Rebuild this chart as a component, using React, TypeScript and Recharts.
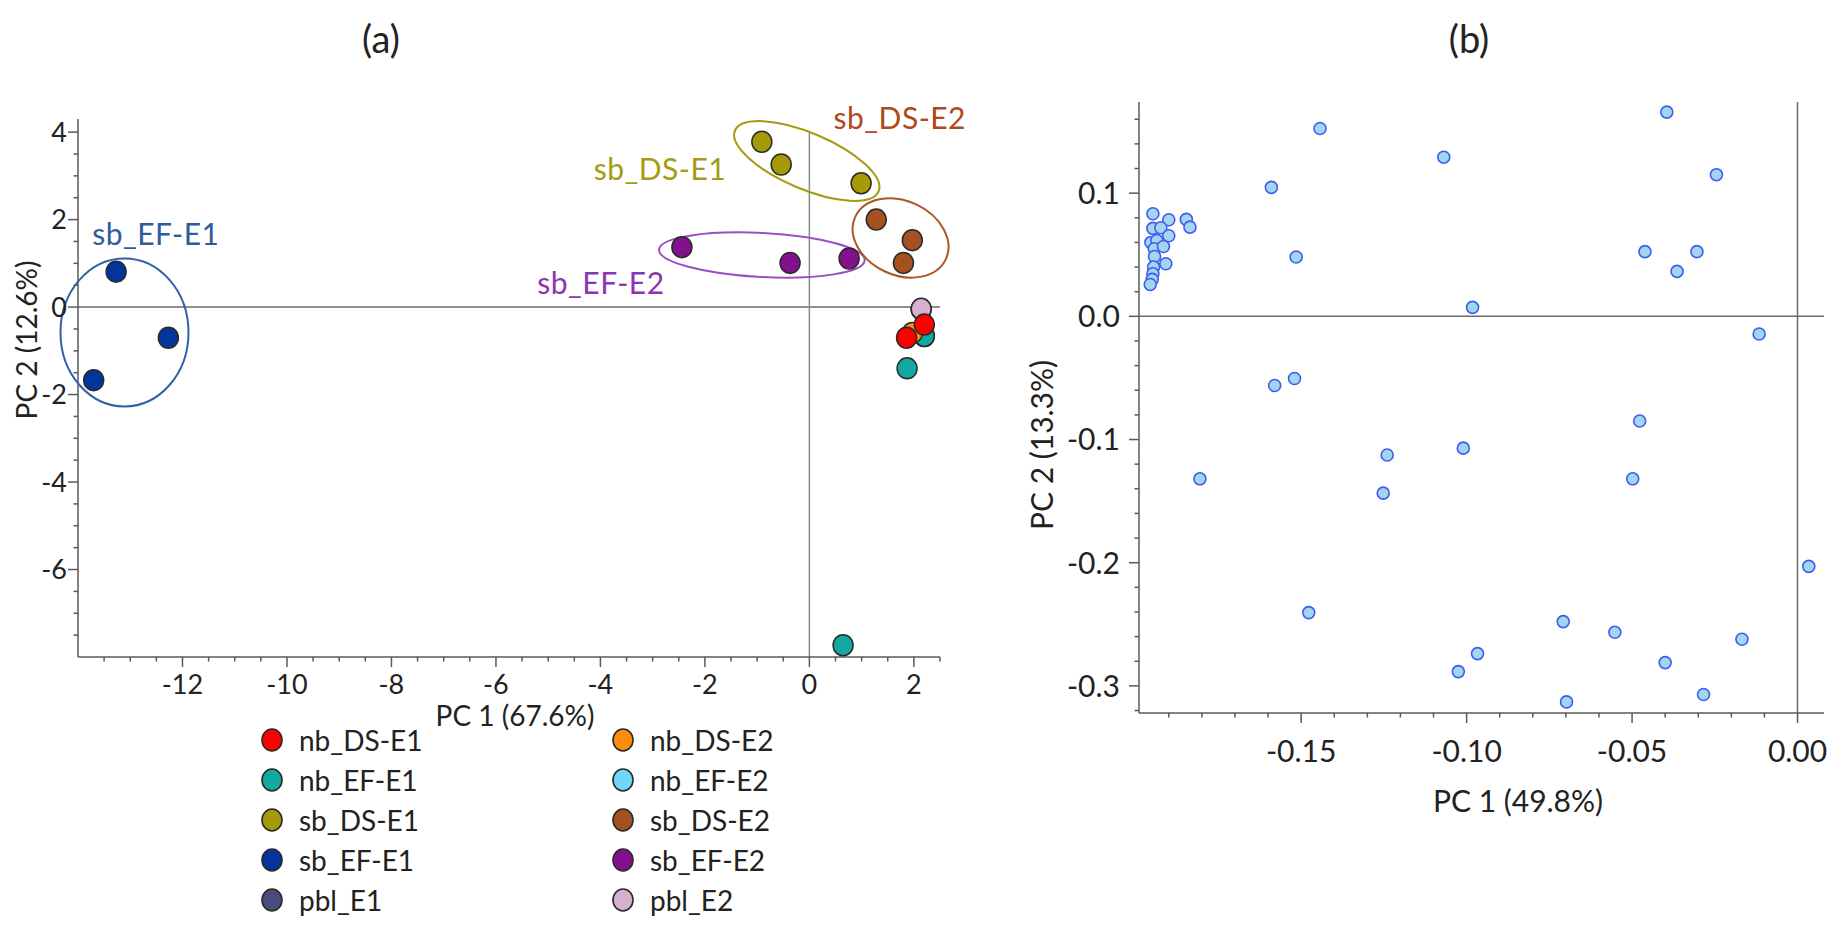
import React from 'react';
import { ScatterChart, Scatter, XAxis, YAxis, ReferenceLine, ReferenceDot } from 'recharts';

const FONT = "Lato, 'Open Sans', sans-serif";
const AXIS = '#5a5a5a';
const INK = '#222';

// ---- (a) PCA scores, one array per group: [PC1, PC2]
const nbDSE1 = [[2.2, -0.4], [1.86, -0.7]];
const nbEFE1 = [[2.2, -0.66], [1.87, -1.4], [0.645, -7.73]];
const sbDSE1 = [[-0.91, 3.78], [-0.54, 3.26], [0.99, 2.83]];
const sbEFE1 = [[-13.27, 0.81], [-12.27, -0.7], [-13.7, -1.67]];
const pblE1 = [[2.14, -0.05]];
const nbDSE2 = [[1.97, -0.59]];
const nbEFE2 = [[2.2, -0.66]];
const sbDSE2 = [[1.28, 2.0], [1.97, 1.53], [1.8, 1.01]];
const sbEFE2 = [[-2.44, 1.37], [-0.37, 1.01], [0.76, 1.11]];
const pblE2 = [[2.14, -0.04]];

const groupNames = ['nb_DS-E1', 'nb_EF-E1', 'sb_DS-E1', 'sb_EF-E1', 'pbl_E1', 'nb_DS-E2', 'nb_EF-E2', 'sb_DS-E2', 'sb_EF-E2', 'pbl_E2'];
const groupPoints = [nbDSE1, nbEFE1, sbDSE1, sbEFE1, pblE1, nbDSE2, nbEFE2, sbDSE2, sbEFE2, pblE2];
const groupColors = ['#ff0000', '#12a9a1', '#a69a05', '#03349c', '#474c7f', '#ff8c0a', '#6fd8f8', '#a4501f', '#83108d', '#d9afd0'];
// hidden ones first, red on top
const drawOrder = [4, 6, 9, 1, 5, 0, 2, 3, 7, 8];

// group ellipses and their labels, centres in PC units
const ellipseNames = ['sb_EF-E1', 'sb_DS-E1', 'sb_EF-E2', 'sb_DS-E2'];
const ellipseCentres = [[-13.11, -0.58], [-0.05, 3.34], [-0.91, 1.19], [1.745, 1.58]];
const labelAnchors = [[-12.51, 1.65], [-2.86, 3.15], [-3.99, 0.53], [1.73, 4.31]];
const ellipseLook = [
  { rx: 64, ry: 74, rot: 0, stroke: '#3260ab', text: '#2e5b9e' },
  { rx: 78, ry: 28, rot: 23, stroke: '#a39b10', text: '#a39b12' },
  { rx: 103, ry: 22, rot: 3, stroke: '#9a4ec6', text: '#8b35b5' },
  { rx: 50, ry: 37, rot: 25, stroke: '#a8582a', text: '#b2461a' },
];

const scoreXMajor = [-12, -10, -8, -6, -4, -2, 0, 2];
const scoreYMajor = [-6, -4, -2, 0, 2, 4];

// ---- (b) loadings [PC1, PC2]
const loadings = [
  [-0.1443, 0.1525], [-0.0395, 0.1658], [-0.1069, 0.1292], [-0.0245, 0.115],
  [-0.159, 0.1047], [-0.1515, 0.0482], [-0.0461, 0.0525], [-0.0304, 0.0525],
  [-0.0364, 0.0365], [-0.0982, 0.0073], [-0.0116, -0.0143], [-0.158, -0.0561],
  [-0.152, -0.0505], [-0.0477, -0.085], [-0.101, -0.107], [-0.124, -0.1126],
  [-0.1252, -0.1435], [-0.1806, -0.1319], [-0.0498, -0.1319], [0.0034, -0.203],
  [-0.1477, -0.2405], [-0.0708, -0.2478], [-0.0552, -0.2565], [-0.0168, -0.2621],
  [-0.0967, -0.2738], [-0.1025, -0.2884], [-0.04, -0.2811], [-0.0284, -0.307],
  [-0.0698, -0.313],
  [-0.1948, 0.0833], [-0.19, 0.0784], [-0.1847, 0.0787], [-0.1836, 0.0724],
  [-0.1948, 0.0714], [-0.1924, 0.0719], [-0.19, 0.0654], [-0.1954, 0.06],
  [-0.1936, 0.0616], [-0.1944, 0.0549], [-0.1916, 0.0567], [-0.1943, 0.0486],
  [-0.1909, 0.0427], [-0.1946, 0.04], [-0.1948, 0.0346], [-0.195, 0.03],
  [-0.1956, 0.0259],
];
const loadXMajor = [-0.15, -0.1, -0.05, 0];
const loadYMajor = [-0.3, -0.2, -0.1, 0, 0.1];

function range(start: number, stop: number, step: number) {
  const out: number[] = [];
  const n = Math.round((stop - start) / step);
  for (let i = 0; i <= n; i++) out.push(+(start + i * step).toFixed(4));
  return out;
}
const isMajor = (v: number, majors: number[]) => majors.some(m => Math.abs(m - v) < 1e-6);
const toXY = (pts: number[][]) => pts.map(([x, y]) => ({ x, y }));

function makeXTick(majors: number[], fmt: (v: number) => string, len: number, fs: number, gap: number) {
  return (p: any) => {
    const major = isMajor(p.payload.value, majors);
    return (
      <g>
        <line x1={p.x} y1={p.y} x2={p.x} y2={p.y + (major ? len : len * 0.45)} stroke={AXIS} strokeWidth={1.5} />
        {major && (
          <text x={p.x} y={p.y + gap} textAnchor="middle" fontSize={fs} fill={INK} fontFamily={FONT}>
            {fmt(p.payload.value)}
          </text>
        )}
      </g>
    );
  };
}

function makeYTick(majors: number[], fmt: (v: number) => string, len: number, fs: number, gap: number) {
  return (p: any) => {
    const major = isMajor(p.payload.value, majors);
    return (
      <g>
        <line x1={p.x} y1={p.y} x2={p.x - (major ? len : len * 0.45)} y2={p.y} stroke={AXIS} strokeWidth={1.5} />
        {major && (
          <text x={p.x - gap} y={p.y + fs * 0.36} textAnchor="end" fontSize={fs} fill={INK} fontFamily={FONT}>
            {fmt(p.payload.value)}
          </text>
        )}
      </g>
    );
  };
}

const Marker = (color: string) => (p: any) => (
  <ellipse cx={p.cx} cy={p.cy} rx={10} ry={10.5} fill={color} stroke="#2a2a2a" strokeWidth={1.5} />
);

const LoadingDot = (p: any) => (
  <circle cx={p.cx} cy={p.cy} r={6} fill="#a3d5ec" stroke="#3d5cf2" strokeWidth={1.6} />
);

function HText({ x, y, size, text, rotate, color }: { x: number; y: number; size: number; text: string; rotate?: boolean; color?: string }) {
  return (
    <div
      style={{
        position: 'absolute',
        left: x,
        top: y,
        transform: `translate(-50%, -50%)${rotate ? ' rotate(-90deg)' : ''}`,
        fontSize: size,
        lineHeight: 1,
        whiteSpace: 'nowrap',
        color: color ?? INK,
        fontFamily: FONT,
      }}
    >
      {text}
    </div>
  );
}

const legendRows = [740, 780, 820, 860, 900];

export default function App() {
  return (
    <div style={{ position: 'absolute', left: 0, top: 0, width: 1847, height: 937, background: '#fff', overflow: 'hidden', fontFamily: FONT }}>
      <HText x={381} y={38} size={38} text="(a)" />
      <HText x={1469} y={38} size={38} text="(b)" />

      {/* (b) loadings plot */}
      <div style={{ position: 'absolute', left: 960, top: 0 }}>
        <ScatterChart width={887} height={937} margin={{ top: 102, right: 23, bottom: 164, left: 0 }}>
          <XAxis
            type="number"
            dataKey="x"
            domain={[-0.199, 0.008]}
            ticks={range(-0.19, 0, 0.01)}
            interval={0}
            allowDataOverflow
            height={60}
            tickSize={0}
            tickMargin={0}
            tickLine={false}
            axisLine={{ stroke: AXIS, strokeWidth: 1.5 }}
            tick={makeXTick(loadXMajor, v => v.toFixed(2), 10, 30, 49)}
          />
          <YAxis
            type="number"
            dataKey="y"
            domain={[-0.322, 0.174]}
            ticks={range(-0.32, 0.16, 0.02)}
            interval={0}
            allowDataOverflow
            width={179}
            tickSize={0}
            tickMargin={0}
            tickLine={false}
            axisLine={{ stroke: AXIS, strokeWidth: 1.5 }}
            tick={makeYTick(loadYMajor, v => v.toFixed(1), 10, 30, 19)}
          />
          <ReferenceLine y={0} stroke="#6a6a6a" strokeWidth={1.5} />
          <ReferenceLine x={0} stroke="#6a6a6a" strokeWidth={1.5} />
          <Scatter name="loadings" data={toXY(loadings)} fill="#a3d5ec" shape={LoadingDot} isAnimationActive={false} />
        </ScatterChart>
      </div>
      <HText x={1041} y={445} size={30} text="PC 2 (13.3%)" rotate />
      <HText x={1518} y={800} size={30} text="PC 1 (49.8%)" />

      {/* (a) scores plot */}
      <div style={{ position: 'absolute', left: 0, top: 0 }}>
        <ScatterChart width={1000} height={937} margin={{ top: 119, right: 60, bottom: 220, left: 0 }}>
          <XAxis
            type="number"
            dataKey="x"
            domain={[-14, 2.5]}
            ticks={range(-13.5, 2.5, 0.5)}
            interval={0}
            allowDataOverflow
            height={60}
            tickSize={0}
            tickMargin={0}
            tickLine={false}
            axisLine={{ stroke: AXIS, strokeWidth: 1.5 }}
            tick={makeXTick(scoreXMajor, v => String(v), 10, 27, 37)}
          />
          <YAxis
            type="number"
            dataKey="y"
            domain={[-8, 4.3]}
            ticks={range(-7.5, 4, 0.5)}
            interval={0}
            allowDataOverflow
            width={78}
            tickSize={0}
            tickMargin={0}
            tickLine={false}
            axisLine={{ stroke: AXIS, strokeWidth: 1.5 }}
            tick={makeYTick(scoreYMajor, v => String(v), 10, 27, 11)}
          />
          <ReferenceLine y={0} stroke="#6a6a6a" strokeWidth={1.5} />
          <ReferenceLine segment={[{ x: 0, y: -8 }, { x: 0, y: 4 }]} stroke="#8a8a8a" strokeWidth={1.5} />
          {ellipseCentres.map((c, i) => (
            <ReferenceDot
              key={'e' + i}
              x={c[0]}
              y={c[1]}
              r={0}
              ifOverflow="visible"
              shape={(p: any) => (
                <ellipse
                  cx={p.cx}
                  cy={p.cy}
                  rx={ellipseLook[i].rx}
                  ry={ellipseLook[i].ry}
                  transform={`rotate(${ellipseLook[i].rot} ${p.cx} ${p.cy})`}
                  fill="none"
                  stroke={ellipseLook[i].stroke}
                  strokeWidth={2}
                />
              )}
            />
          ))}
          {labelAnchors.map((c, i) => (
            <ReferenceDot
              key={'l' + i}
              x={c[0]}
              y={c[1]}
              r={0}
              ifOverflow="visible"
              shape={(p: any) => (
                <text x={p.cx} y={p.cy + 10.5} textAnchor="middle" fontSize={30} letterSpacing={0.5} fill={ellipseLook[i].text} fontFamily={FONT}>
                  {ellipseNames[i]}
                </text>
              )}
            />
          ))}
          {drawOrder.map(g => (
            <Scatter
              key={groupNames[g]}
              name={groupNames[g]}
              data={toXY(groupPoints[g])}
              fill={groupColors[g]}
              shape={Marker(groupColors[g])}
              isAnimationActive={false}
            />
          ))}
        </ScatterChart>
      </div>
      <HText x={26} y={340} size={28} text="PC 2 (12.6%)" rotate />
      <HText x={515} y={715} size={28} text="PC 1 (67.6%)" />

      {/* legend */}
      {groupNames.map((name, i) => {
        const col = i < 5 ? 0 : 1;
        const row = i % 5;
        const mx = col === 0 ? 272 : 623;
        return (
          <div key={name} style={{ position: 'absolute', left: mx - 12, top: legendRows[row] - 20, height: 40, display: 'flex', alignItems: 'center' }}>
            <svg width={24} height={26} style={{ display: 'block' }}>
              <ellipse cx={12} cy={13} rx={10} ry={11} fill={groupColors[i]} stroke="#2a2a2a" strokeWidth={1.6} />
            </svg>
            <span style={{ marginLeft: 15, fontSize: 28, lineHeight: 1, color: INK, whiteSpace: 'nowrap' }}>{name}</span>
          </div>
        );
      })}
    </div>
  );
}
